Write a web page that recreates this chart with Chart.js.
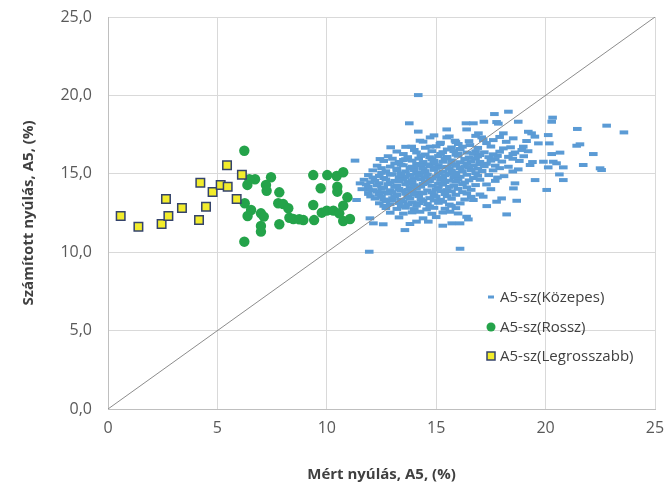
<!DOCTYPE html>
<html>
<head>
<meta charset="utf-8">
<script src="https://cdn.jsdelivr.net/npm/chart.js@4/dist/chart.umd.min.js"></script>
<style>
  html, body { margin: 0; padding: 0; background: #fff; }
  #wrap { width: 665px; height: 488px; position: relative; }
</style>
</head>
<body>
<div id="wrap"><canvas id="chart"></canvas></div>
<script>
// axis ticks
const xTicks = [0, 5, 10, 15, 20, 25];
const xTickLabels = ['0', '5', '10', '15', '20', '25'];
const yTicks = [0, 5, 10, 15, 20, 25];
const yTickLabels = ['0,0', '5,0', '10,0', '15,0', '20,0', '25,0'];

const seriesNames = ['A5-sz(Közepes)', 'A5-sz(Rossz)', 'A5-sz(Legrosszabb)'];

// A5-sz(Közepes) - [mért, számított]
const kozepes = [
  // scattered outliers
  [14.18,20.02],[18.30,18.96],[17.66,18.81],[13.77,18.22],[16.36,18.22],[16.70,18.22],[17.18,18.32],
  [17.76,18.30],[17.84,18.20],[18.75,18.32],[20.32,18.58],[20.28,18.32],[22.79,18.07],[23.58,17.64],
  [21.45,17.86],[15.48,17.83],[16.39,17.83],[14.18,17.69],[16.93,17.58],[18.07,17.58],[19.21,17.68],
  [19.36,17.58],[19.51,17.37],[20.12,17.47],[14.72,17.32],[14.26,17.11],[15.48,17.32],[15.86,17.11],
  [16.01,16.90],[17.08,17.32],[17.15,17.15],[17.61,17.15],[18.52,17.26],[19.13,17.09],[19.67,16.94],
  [20.17,16.94],[21.42,16.79],[21.57,16.88],[12.92,16.69],[13.88,16.73],[14.72,16.73],[15.17,16.90],
  [16.54,16.83],[18.07,16.62],[18.91,16.52],[18.98,16.73],[20.28,16.26],[20.66,16.35],[22.18,16.26],
  [11.29,15.84],[12.43,15.94],[13.50,15.88],[19.90,15.77],[20.35,15.77],[20.50,15.67],[20.12,15.41],
  [20.81,15.41],[21.72,15.56],[22.49,15.35],[22.56,15.24],[19.29,15.56],[18.75,15.28],[20.63,14.96],
  [19.52,14.60],[20.81,14.60],[20.05,13.97],[18.60,14.39],[18.53,14.07],[18.68,13.28],[18.22,12.41],
  [11.52,14.39],[11.90,13.97],[11.36,13.33],[11.97,12.16],[12.13,11.84],[12.58,11.78],[13.57,11.41],
  [13.80,11.80],[14.10,11.95],[14.64,11.95],[15.30,11.69],[15.71,11.84],[16.09,11.84],[16.39,12.26],
  [16.47,12.09],[16.09,10.22],[11.94,10.03],[14.26,12.58],[14.56,12.73],[15.63,12.58],[16.70,13.33],
  [17.31,12.94],[17.76,13.22],[17.99,13.43],[17.15,13.54],
  // dense body
  [14.9,17.45],[15.6,17.38],[16.8,17.42],[17.9,17.35],
  [14.4,17.05],[15.2,16.98],[15.9,17.02],[16.5,17.08],[17.3,16.96],[18.2,17.04],
  [13.6,16.72],[14.5,16.66],[15.0,16.75],[15.7,16.68],[16.2,16.73],[16.9,16.65],[17.5,16.74],[18.4,16.69],
  [14.0,16.52],[15.5,16.55],[16.1,16.58],
  [13.2,16.42],[14.1,16.36],[14.8,16.44],[15.3,16.38],[15.8,16.45],[16.4,16.35],[16.8,16.43],[17.2,16.37],
  [17.9,16.41],[18.6,16.36],[19.2,16.44],
  [13.5,16.26],[14.5,16.23],[15.2,16.27],[15.9,16.22],[16.7,16.28],[17.6,16.24],[18.5,16.26],[16.0,16.30],
  [17.0,16.20],
  [12.8,16.12],[13.7,16.06],[14.3,16.14],[14.7,16.05],[15.1,16.13],[15.5,16.07],[16.0,16.15],[16.5,16.04],
  [16.9,16.11],[17.4,16.06],[17.8,16.14],[18.3,16.08],[19.0,16.12],
  [13.0,15.96],[13.6,15.93],[14.2,15.97],[14.8,15.92],[15.4,15.98],[16.3,15.94],[16.8,15.97],[17.7,15.93],
  [18.5,15.96],
  [12.6,15.82],[13.3,15.76],[13.9,15.84],[14.4,15.75],[14.9,15.83],[15.3,15.77],[15.7,15.85],[16.1,15.74],
  [16.6,15.81],[17.0,15.76],[17.5,15.84],[18.0,15.78],[18.8,15.82],[19.4,15.75],
  [13.1,15.66],[14.1,15.63],[14.9,15.68],[15.7,15.62],[16.4,15.67],[17.3,15.64],[17.0,15.62],
  [13.4,15.58],[14.6,15.60],[15.8,15.59],
  [12.3,15.52],[12.9,15.46],[13.5,15.54],[13.9,15.45],[14.3,15.53],[14.7,15.47],[15.1,15.55],[15.5,15.44],
  [15.9,15.51],[16.3,15.46],[16.7,15.54],[17.2,15.48],[17.7,15.52],[18.3,15.45],
  [14.0,15.40],[15.2,15.42],[16.5,15.41],
  [12.5,15.36],[13.2,15.33],[13.8,15.37],[14.4,15.32],[15.0,15.38],[15.6,15.34],[16.1,15.37],[16.9,15.33],
  [17.9,15.36],
  [12.1,15.22],[12.7,15.16],[13.2,15.24],[13.6,15.15],[14.0,15.23],[14.5,15.17],[14.9,15.25],[15.3,15.14],
  [15.7,15.21],[16.2,15.16],[16.6,15.24],[17.1,15.18],[17.6,15.22],[18.5,15.15],
  [12.5,15.06],[13.4,15.03],[14.3,15.07],[15.1,15.02],[15.9,15.08],[16.8,15.04],
  [13.0,14.98],[14.1,15.00],[15.6,14.99],
  [11.9,14.92],[12.4,14.86],[12.9,14.94],[13.4,14.85],[13.8,14.93],[14.2,14.87],[14.6,14.95],[15.0,14.84],
  [15.4,14.91],[15.9,14.86],[16.4,14.94],[16.9,14.88],[17.4,14.92],[18.1,14.85],
  [13.6,14.80],[16.1,14.81],
  [12.1,14.76],[12.6,14.73],[13.3,14.77],[14.0,14.72],[14.5,14.78],[15.3,14.74],[15.8,14.77],[16.7,14.73],
  [17.8,14.76],[14.8,14.70],
  [11.7,14.62],[12.2,14.56],[12.7,14.64],[13.1,14.55],[13.5,14.63],[13.9,14.57],[14.3,14.65],[14.7,14.54],
  [15.2,14.61],[15.6,14.56],[16.0,14.64],[16.5,14.58],[17.0,14.62],[17.7,14.55],
  [13.3,14.52],[14.6,14.50],[15.9,14.51],
  [12.0,14.46],[12.9,14.43],[13.7,14.47],[14.5,14.42],[15.4,14.48],[16.3,14.44],
  [12.4,14.40],[13.9,14.38],[15.1,14.37],
  [11.8,14.32],[12.3,14.26],[12.8,14.34],[13.2,14.25],[13.6,14.33],[14.0,14.27],[14.4,14.35],[14.8,14.24],
  [15.3,14.31],[15.8,14.26],[16.2,14.34],[16.8,14.28],[17.3,14.32],
  [11.9,14.16],[12.6,14.13],[13.1,14.17],[13.8,14.12],[14.3,14.18],[15.1,14.14],[15.6,14.17],[16.4,14.13],
  [11.6,14.02],[12.1,13.96],[12.5,14.04],[12.9,13.95],[13.3,14.03],[13.7,13.97],[14.1,14.05],[14.6,13.94],
  [15.0,14.01],[15.5,13.96],[16.0,14.04],[16.6,13.98],[17.5,14.02],
  [13.4,13.92],[15.2,13.90],
  [12.3,13.86],[13.0,13.83],[13.9,13.87],[14.8,13.82],[15.7,13.88],
  [12.6,13.80],[14.2,13.80],[16.2,13.83],
  [11.9,13.72],[12.4,13.66],[12.8,13.74],[13.2,13.65],[13.6,13.73],[14.0,13.67],[14.4,13.75],[14.9,13.64],
  [15.4,13.71],[15.9,13.66],[16.4,13.74],[17.0,13.68],
  [12.0,13.56],[12.5,13.53],[13.1,13.57],[13.7,13.52],[14.2,13.58],[15.0,13.54],[15.5,13.57],[16.6,13.53],
  [12.2,13.42],[12.6,13.36],[13.0,13.44],[13.4,13.35],[13.8,13.43],[14.3,13.37],[14.7,13.45],[15.2,13.34],
  [15.7,13.41],[16.3,13.36],
  [13.0,13.32],[14.9,13.30],
  [12.7,13.26],[13.5,13.23],[14.4,13.27],[15.3,13.22],
  [13.9,13.18],
  [12.4,13.12],[12.9,13.06],[13.3,13.14],[13.7,13.05],[14.2,13.13],[14.6,13.07],[15.1,13.15],[15.6,13.04],
  [16.1,13.11],
  [12.6,12.96],[13.4,12.93],[14.1,12.97],[14.7,12.92],[15.7,12.96],
  [12.7,12.82],[13.2,12.76],[13.6,12.84],[14.0,12.75],[14.9,12.83],[15.4,12.77],[15.9,12.81],
  [12.9,12.52],[13.5,12.46],[13.9,12.54],[14.8,12.45],[15.3,12.53],[16.0,12.47],
  [13.3,12.22],[14.4,12.16],[15.0,12.24]
];

// A5-sz(Rossz)
const rossz = [
  [6.23,16.47],[6.37,14.29],[6.72,14.65],[6.46,14.65],[7.45,14.78],[7.22,14.29],[7.25,13.92],[7.83,13.82],
  [6.25,13.12],[6.54,12.69],[6.38,12.31],[6.99,12.48],[7.12,12.27],[6.99,11.67],[6.99,11.31],[7.83,11.78],
  [6.23,10.67],[7.78,13.12],[8.01,13.07],[8.24,12.80],[8.29,12.20],[8.47,12.12],[8.93,12.05],[8.74,12.10],
  [9.38,14.92],[10.02,14.92],[9.72,14.08],[9.38,13.01],[9.42,12.05],[9.77,12.52],[10.00,12.65],[10.30,12.65],
  [10.45,14.86],[10.75,15.10],[10.48,14.18],[10.48,13.86],[10.94,13.50],[10.75,12.97],[10.57,12.48],
  [10.75,11.99],[11.06,12.12]
];

// A5-sz(Legrosszabb)
const legrosszabb = [
  [0.58,12.31],[1.39,11.63],[2.45,11.80],[2.76,12.31],[2.65,13.39],[3.38,12.82],[4.16,12.05],[4.48,12.90],
  [4.22,14.43],[4.78,13.84],[5.15,14.29],[5.47,14.18],[5.44,15.54],[5.88,13.39],[6.12,14.94]
];

// y = x reference line
const diagonal = [[0, 0], [25, 25]];

const toXY = arr => arr.map(p => ({ x: p[0], y: p[1] }));

const blue = '#5b9bd5';
const green = '#24a34a';
const yellow = '#f2ec2c';
const navy = '#34436b';

// legend drawn inside the plot, like the Excel original
const insideLegend = {
  id: 'insideLegend',
  afterDraw(chart) {
    const ctx = chart.ctx;
    const x0 = 491, tx = 500;
    const rows = [297, 327, 356];
    ctx.save();
    ctx.font = "15px 'Open Sans', sans-serif";
    ctx.textBaseline = 'middle';
    ctx.textAlign = 'left';
    // dash
    ctx.strokeStyle = blue; ctx.lineWidth = 3;
    ctx.beginPath(); ctx.moveTo(x0 - 3, rows[0]); ctx.lineTo(x0 + 3, rows[0]); ctx.stroke();
    // circle
    ctx.fillStyle = green;
    ctx.beginPath(); ctx.arc(x0, rows[1], 4.5, 0, Math.PI * 2); ctx.fill();
    // square
    ctx.fillStyle = yellow; ctx.strokeStyle = navy; ctx.lineWidth = 1.5;
    ctx.fillRect(x0 - 4, rows[2] - 4, 8, 8); ctx.strokeRect(x0 - 4, rows[2] - 4, 8, 8);
    ctx.fillStyle = '#404040';
    seriesNames.forEach((n, i) => ctx.fillText(n, tx, rows[i] + 1));
    ctx.restore();
  }
};

// kill the automatic label-overflow padding so the plot box lands where the original has it
const noScalePad = s => { s.paddingTop = 0; s.paddingBottom = 0; s.paddingLeft = 0; s.paddingRight = 0; };

new Chart(document.getElementById('chart'), {
  type: 'scatter',
  data: {
    datasets: [
      {
        label: 'diag',
        type: 'line',
        data: toXY(diagonal),
        borderColor: '#8c8c8c',
        borderWidth: 1,
        pointRadius: 0,
        order: 0
      },
      {
        label: seriesNames[2],
        data: toXY(legrosszabb),
        pointStyle: 'rect',
        pointRadius: 6,
        backgroundColor: yellow,
        borderColor: navy,
        borderWidth: 1.5,
        order: 1
      },
      {
        label: seriesNames[1],
        data: toXY(rossz),
        pointStyle: 'circle',
        pointRadius: 5.2,
        backgroundColor: green,
        borderColor: green,
        borderWidth: 0,
        order: 2
      },
      {
        label: seriesNames[0],
        data: toXY(kozepes),
        pointStyle: 'line',
        pointRadius: 4.3,
        borderColor: blue,
        backgroundColor: blue,
        borderWidth: 4,
        order: 3
      }
    ]
  },
  options: {
    responsive: true,
    maintainAspectRatio: false,
    animation: false,
    layout: { padding: { top: 17, right: 10, left: 0, bottom: 0 } },
    plugins: {
      legend: { display: false },
      tooltip: { enabled: false }
    },
    scales: {
      x: {
        type: 'linear',
        min: 0,
        max: 25,
        afterBuildTicks: s => { s.ticks = xTicks.map(v => ({ value: v })); },
        afterFit: s => { s.height = 79; noScalePad(s); },
        ticks: {
          callback: v => xTickLabels[xTicks.indexOf(v)],
          color: '#595959',
          font: { family: "'Open Sans', sans-serif", size: 16 },
          padding: 10,
          maxRotation: 0
        },
        grid: { color: '#d9d9d9', drawTicks: false },
        border: { color: '#bfbfbf' },
        title: {
          display: true,
          text: 'Mért nyúlás, A5, (%)',
          color: '#404040',
          font: { family: "'Open Sans', sans-serif", size: 15, weight: 'bold' },
          padding: { top: 8, bottom: 4 }
        }
      },
      y: {
        type: 'linear',
        min: 0,
        max: 25,
        afterBuildTicks: s => { s.ticks = yTicks.map(v => ({ value: v })); },
        afterFit: s => { s.width = 108; noScalePad(s); },
        ticks: {
          callback: v => yTickLabels[yTicks.indexOf(v)],
          color: '#595959',
          font: { family: "'Open Sans', sans-serif", size: 16 },
          padding: 16
        },
        grid: { color: '#d9d9d9', drawTicks: false },
        border: { color: '#bfbfbf' },
        title: {
          display: true,
          text: 'Számított nyúlás, A5, (%)',
          color: '#404040',
          font: { family: "'Open Sans', sans-serif", size: 15, weight: 'bold' },
          padding: { top: 20, bottom: 0 }
        }
      }
    }
  },
  plugins: [insideLegend]
});
</script>
</body>
</html>
